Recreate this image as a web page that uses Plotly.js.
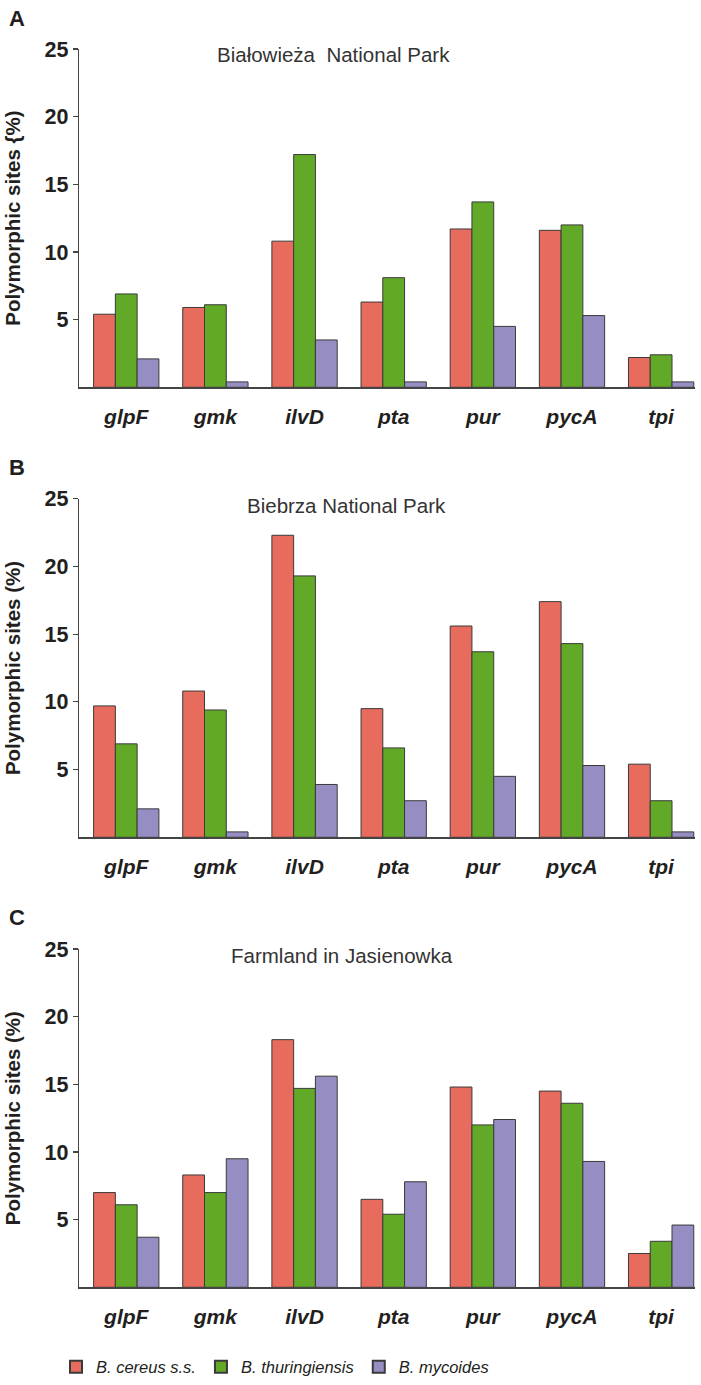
<!DOCTYPE html>
<html>
<head>
<meta charset="utf-8">
<script src="https://cdn.plot.ly/plotly-3.0.1.min.js"></script>
<style>html,body{margin:0;padding:0;background:#fff;}</style>
</head>
<body>
<div id="chart" style="width:701px;height:1385px;"></div>
<script>
// ---- data ----
const genes = ["glpF", "gmk", "ilvD", "pta", "pur", "pycA", "tpi"];
const speciesNames = ["B. cereus s.s.", "B. thuringiensis", "B. mycoides"];
const panelLetters = ["A", "B", "C"];
const panelTitles = ["Białowieża  National Park", "Biebrza National Park", "Farmland in Jasienowka"];
const yTitles = ["Polymorphic sites {%)", "Polymorphic sites (%)", "Polymorphic sites (%)"];
const yTickVals = [5, 10, 15, 20, 25];

// Panel A: Białowieża National Park
const bialowiezaCereus = [5.4, 5.9, 10.8, 6.3, 11.7, 11.6, 2.2];
const bialowiezaThuringiensis = [6.9, 6.1, 17.2, 8.1, 13.7, 12.0, 2.4];
const bialowiezaMycoides = [2.1, 0.4, 3.5, 0.4, 4.5, 5.3, 0.4];
// Panel B: Biebrza National Park
const biebrzaCereus = [9.7, 10.8, 22.3, 9.5, 15.6, 17.4, 5.4];
const biebrzaThuringiensis = [6.9, 9.4, 19.3, 6.6, 13.7, 14.3, 2.7];
const biebrzaMycoides = [2.1, 0.4, 3.9, 2.7, 4.5, 5.3, 0.4];
// Panel C: Farmland in Jasienowka
const farmlandCereus = [7.0, 8.3, 18.3, 6.5, 14.8, 14.5, 2.5];
const farmlandThuringiensis = [6.1, 7.0, 14.7, 5.4, 12.0, 13.6, 3.4];
const farmlandMycoides = [3.7, 9.5, 15.6, 7.8, 12.4, 9.3, 4.6];

// ---- style ----
const colors = ["#E86C5D", "#62A928", "#968EC2"];
const ink = "#231F20";
const fontFam = "Arial, 'Liberation Sans', Helvetica, sans-serif";
const panels = [
  [bialowiezaCereus, bialowiezaThuringiensis, bialowiezaMycoides],
  [biebrzaCereus, biebrzaThuringiensis, biebrzaMycoides],
  [farmlandCereus, farmlandThuringiensis, farmlandMycoides]
];
const W = 701, H = 1385;
const L = 79, R = 6, T = 0, B = 60;
const PW = W - L - R, PH = H - T - B;
const fy = px => (H - B - px) / PH;   // pixel row -> paper y
const fx = px => (px - L) / PW;       // pixel col -> paper x
const domainPx = [[49, 387.3], [498.7, 837.3], [949, 1287.3]];
const titleY = [55, 505, 956];
const titleX = [215, 245, 229];
const letterY = [18, 467, 917];

const traces = [];
panels.forEach((series, p) => {
  series.forEach((vals, s) => {
    traces.push({
      type: "bar",
      x: genes,
      y: vals,
      name: speciesNames[s],
      legendgroup: speciesNames[s],
      showlegend: p === 0,
      xaxis: p === 0 ? "x" : "x" + (p + 1),
      yaxis: p === 0 ? "y" : "y" + (p + 1),
      marker: { color: colors[s], line: { color: "#3a3a3a", width: 1 } },
      hoverinfo: "x+y+name"
    });
  });
});

const layout = {
  width: W, height: H,
  margin: { l: L, r: R, t: T, b: B },
  paper_bgcolor: "#fff", plot_bgcolor: "#fff",
  barmode: "group", bargap: 0.2675, bargroupgap: 0,
  font: { family: fontFam, color: ink },
  showlegend: true,
  legend: {
    orientation: "h", x: fx(56), xanchor: "left", y: fy(1367), yanchor: "middle",
    font: { family: fontFam, size: 16.5, style: "italic", color: ink },
    traceorder: "normal", itemsizing: "constant"
  },
  annotations: [],
};

for (let p = 0; p < 3; p++) {
  const sfx = p === 0 ? "" : String(p + 1);
  layout["xaxis" + sfx] = {
    type: "category", range: [-0.53, 6.38], domain: [0, 1],
    anchor: "y" + sfx,
    showline: true, linecolor: "#444", linewidth: 1.2,
    ticks: "", showgrid: false, zeroline: false,
    tickfont: { family: fontFam, size: 21, weight: "bold", style: "italic", color: ink },
    ticklabelstandoff: 10,
    fixedrange: true
  };
  layout["yaxis" + sfx] = {
    range: [0, 25], domain: [fy(domainPx[p][1]), fy(domainPx[p][0])], anchor: "x" + sfx,
    showline: true, linecolor: "#444", linewidth: 1.2,
    ticks: "outside", ticklen: 5, tickcolor: "#444", tickwidth: 1.2,
    tickvals: yTickVals, showgrid: false, zeroline: false,
    tickfont: { family: fontFam, size: 21.5, weight: "bold", color: ink },
    title: { text: yTitles[p], font: { family: fontFam, size: 20.5, weight: "bold", color: ink }, standoff: 18 },
    fixedrange: true
  };
  layout.annotations.push({
    text: panelTitles[p], xref: "paper", yref: "paper",
    x: fx(titleX[p]), y: fy(titleY[p]), xanchor: "left", yanchor: "middle",
    showarrow: false, font: { family: fontFam, size: 20.5, color: "#333" }
  });
  layout.annotations.push({
    text: panelLetters[p], xref: "paper", yref: "paper",
    x: fx(17), y: fy(letterY[p]), xanchor: "center", yanchor: "middle",
    showarrow: false, font: { family: fontFam, size: 22, weight: "bold", color: ink }
  });
}

Plotly.newPlot("chart", traces, layout, { displayModeBar: false, staticPlot: true });
</script>
</body>
</html>
